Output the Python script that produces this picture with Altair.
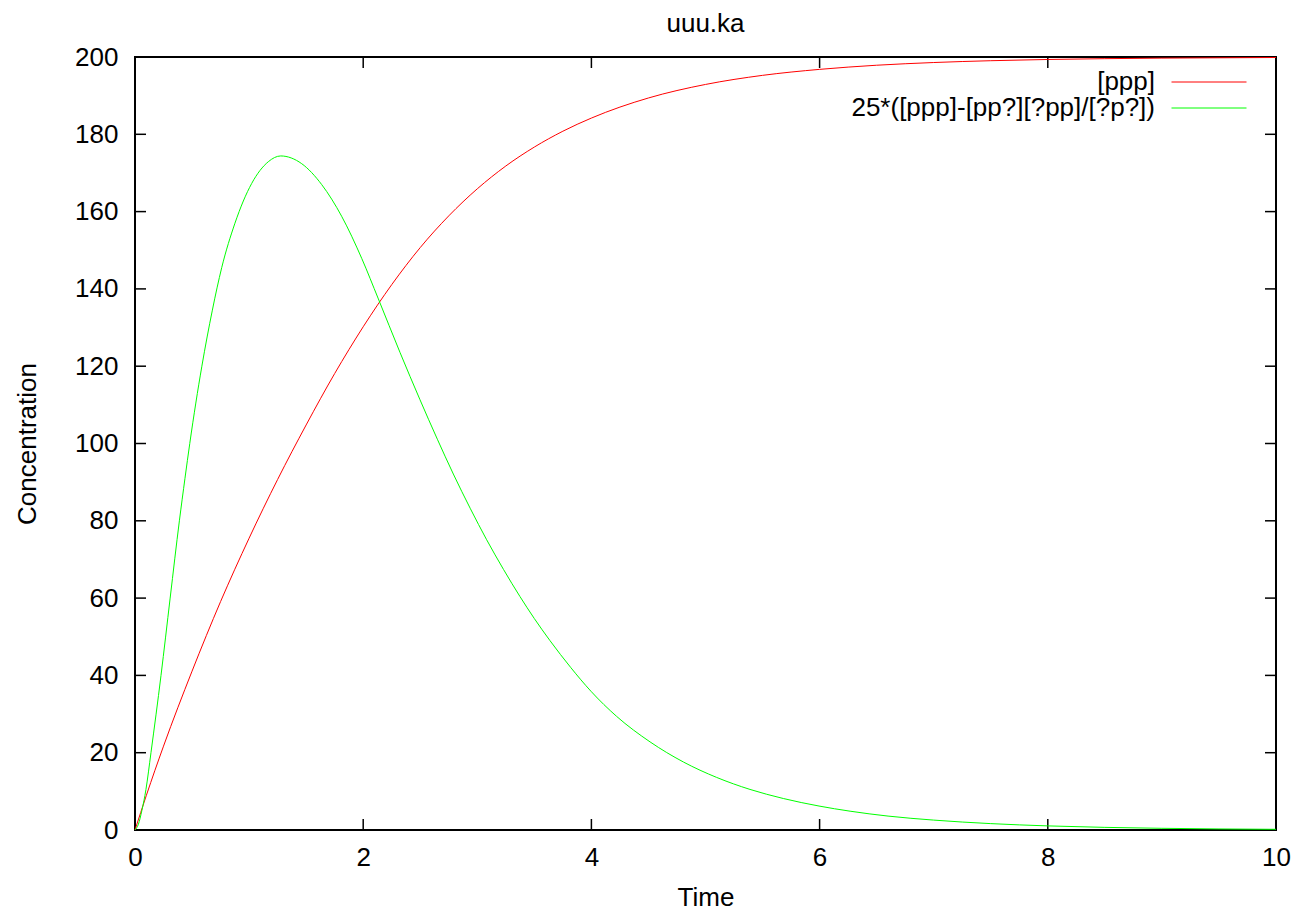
import altair as alt
import pandas as pd

# ---- data ----
series_names = ["[ppp]", "25*([ppp]-[pp?][?pp]/[?p?])"]
series_colors = ["#ff0000", "#00ff00"]

red_t = [0, 0.1, 0.25, 0.5, 0.75, 1.0, 1.25, 1.5, 1.75, 2.0, 2.25, 2.5, 2.75, 3.0,
         3.25, 3.5, 3.75, 4.0, 4.5, 5.0, 5.5, 6.0, 6.5, 7.0, 7.5, 8.0, 9.0, 10.0]
red_v = [0, 9.0, 21.7, 41.1, 59.1, 75.5, 90.7, 104.8, 118.1, 130.2, 141.1, 150.7, 158.9, 165.9,
         171.8, 176.7, 180.8, 184.2, 189.4, 192.9, 195.25, 196.8, 197.87, 198.57, 199.04,
         199.36, 199.71, 199.87]

green_t = [0, 0.03, 0.06, 0.096, 0.14, 0.228, 0.308, 0.389, 0.438, 0.48, 0.586, 0.678,
           0.76, 0.876, 1.023, 1.168, 1.277, 1.461, 1.636, 1.811, 1.987, 2.133, 2.322,
           2.498, 2.65, 2.79, 2.94, 3.082, 3.23, 3.374, 3.5, 3.637, 3.82, 3.996, 4.221,
           4.514, 4.806, 5.098, 5.39, 5.682, 5.995, 6.267, 6.6, 7.0, 7.5, 8.0, 9.0, 10.0]
green_v = [0, 1.5, 5, 10.5, 20, 40, 60, 80, 91.0, 100, 120, 134.5,
           145.5, 157.0, 167.3, 172.9, 174.4, 172.4, 167.0, 158.8, 147.9, 137.4, 123.6,
           111.3, 101.1, 92.1, 83.1, 75.1, 67.4, 60.4, 54.7, 49.0, 42.0, 35.9, 29.4,
           22.8, 17.6, 13.6, 10.5, 8.15, 6.2, 4.87, 3.6, 2.56, 1.65, 1.06, 0.44, 0.18]

x_ticks = [0, 2, 4, 6, 8, 10]
y_ticks = [0, 20, 40, 60, 80, 100, 120, 140, 160, 180, 200]

chart_title = "uuu.ka"
x_title = "Time"
y_title = "Concentration"

# ---- tables ----
df = pd.concat([
    pd.DataFrame({"t": red_t, "v": red_v, "series": series_names[0]}),
    pd.DataFrame({"t": green_t, "v": green_v, "series": series_names[1]}),
], ignore_index=True)
df_xt = pd.DataFrame({"t": x_ticks})
df_yt = pd.DataFrame({"v": y_ticks})

W, H = 1141, 773
TICK = 11
FONT = "Liberation Sans"
FS = 26

xscale = alt.Scale(domain=[0, 10], nice=False, zero=False)
yscale = alt.Scale(domain=[0, 200], nice=False, zero=False)
xaxis = alt.Axis(values=x_ticks, title=x_title, ticks=False, domain=False, grid=False,
                 labelPadding=14, titlePadding=14, format="d", labelFlush=False)
yaxis = alt.Axis(values=y_ticks, title=y_title, ticks=False, domain=False, grid=False,
                 labelPadding=17, titlePadding=34, format="d", labelFlush=False)

# legend key: a 75px horizontal stroke drawn to the right of a right-aligned label
lines = alt.Chart(df).mark_line(strokeWidth=1, interpolate="monotone").encode(
    x=alt.X("t:Q", scale=xscale, axis=xaxis),
    y=alt.Y("v:Q", scale=yscale, axis=yaxis),
    color=alt.Color("series:N",
                    scale=alt.Scale(domain=series_names, range=series_colors),
                    sort=series_names,
                    legend=alt.Legend(orient="none", legendX=1061, legendY=12, title=None,
                                      symbolType="M-5,0H5", symbolSize=225,
                                      symbolStrokeWidth=1, labelAlign="right",
                                      labelOffset={"expr": "-67"}, labelFontSize=FS,
                                      labelFont=FONT, labelColor="black", labelLimit=0,
                                      padding=0, rowPadding=0)),
    order="t:Q",
)

tick_style = dict(color="black", strokeWidth=1.5)
y_left = alt.Chart(df_yt).mark_rule(**tick_style).encode(
    y=alt.Y("v:Q", scale=yscale, axis=yaxis), x=alt.value(0), x2=alt.value(TICK))
y_right = alt.Chart(df_yt).mark_rule(**tick_style).encode(
    y=alt.Y("v:Q", scale=yscale, axis=yaxis), x=alt.value(W - TICK), x2=alt.value(W))
x_bottom = alt.Chart(df_xt).mark_rule(**tick_style).encode(
    x=alt.X("t:Q", scale=xscale, axis=xaxis), y=alt.value(H - TICK), y2=alt.value(H))
x_top = alt.Chart(df_xt).mark_rule(**tick_style).encode(
    x=alt.X("t:Q", scale=xscale, axis=xaxis), y=alt.value(0), y2=alt.value(TICK))

chart = alt.layer(y_left, y_right, x_bottom, x_top, lines).properties(
    width=W, height=H,
    title=alt.TitleParams(chart_title, font=FONT, fontSize=FS, fontWeight="normal",
                          color="black", anchor="middle", frame="group",
                          baseline="alphabetic", offset=8, dy=22),
    autosize=alt.AutoSizeParams(type="none"),
    padding={"left": 127, "top": 49, "right": 17, "bottom": 77},
).configure_view(
    stroke="black", strokeWidth=2
).configure_axis(
    labelFont=FONT, labelFontSize=FS, labelColor="black",
    titleFont=FONT, titleFontSize=FS, titleColor="black", titleFontWeight="normal"
)

chart.save("out.html", embed_options={"renderer": "svg", "actions": False})
